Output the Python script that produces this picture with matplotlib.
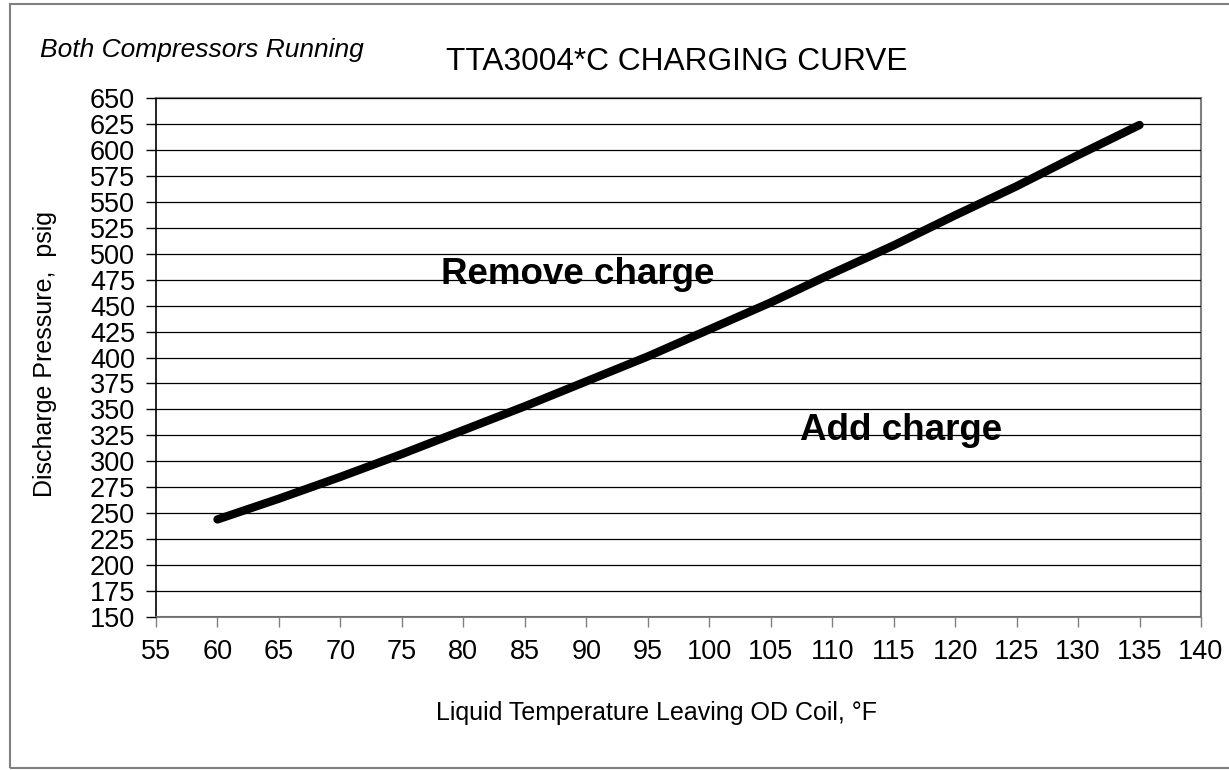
import numpy as np
import matplotlib.pyplot as plt
from matplotlib.patches import Rectangle

plt.rcParams['font.family'] = ['Liberation Sans', 'DejaVu Sans']

# charging curve
temp_f = [60, 65, 70, 75, 80, 85, 90, 95, 100, 105, 110, 115, 120, 125, 130, 135]
pressure_psig = [244, 264, 285, 307, 330, 353, 377, 401, 427, 453, 481, 508, 537, 565, 595, 624]

x_ticks = list(range(55, 141, 5))
y_ticks = list(range(150, 651, 25))

TITLE = "TTA3004*C CHARGING CURVE"
SUBTITLE = "Both Compressors Running"
X_LABEL = "Liquid Temperature Leaving OD Coil, °F"
Y_LABEL = "Discharge Pressure,  psig"


def main():
    fig = plt.figure(figsize=(12.29, 7.70), dpi=100)
    W, H = 1229, 770

    # outer frame of the chart
    fig.patches.append(Rectangle((10 / W, 1 - 768 / H), 1.2, (768 - 4) / H,
                                 transform=fig.transFigure, fill=False,
                                 edgecolor='#808080', linewidth=1.5))

    ax = fig.add_axes([156 / W, 1 - 617 / H, (1201 - 156) / W, (617 - 98) / H])

    ax.plot(temp_f, pressure_psig, color='black', linewidth=6,
            solid_capstyle='round', zorder=3)

    ax.set_xlim(55, 140)
    ax.set_ylim(150, 650)
    ax.set_xticks(x_ticks)
    ax.set_yticks(y_ticks)
    ax.tick_params(axis='both', direction='out', length=7, width=1,
                   labelsize=19.5, colors='black')
    ax.tick_params(axis='y', pad=8)
    ax.tick_params(axis='x', pad=9, color='#808080')

    ax.yaxis.grid(True, color='black', linewidth=0.9)
    ax.set_axisbelow(False)

    for side in ['top', 'right']:
        ax.spines[side].set_color('#808080')
        ax.spines[side].set_linewidth(1.5)
    ax.spines['left'].set_color('black')
    ax.spines['left'].set_linewidth(1.2)
    ax.spines['bottom'].set_color('#808080')
    ax.spines['bottom'].set_linewidth(1.5)

    ax.text(89.3, 480, "Remove charge", fontsize=26.5, fontweight='bold',
            ha='center', va='center', zorder=1)
    ax.text(115.6, 330, "Add charge", fontsize=26.5, fontweight='bold',
            ha='center', va='center', zorder=1)

    fig.text(677 / W, 1 - 62 / H, TITLE, fontsize=22.8, ha='center', va='center')
    fig.text(40 / W, 1 - 50 / H, SUBTITLE, fontsize=19, style='italic',
             ha='left', va='center')
    fig.text(657 / W, 1 - 713 / H, X_LABEL, fontsize=18, ha='center', va='center')
    fig.text(45 / W, 1 - 354 / H, Y_LABEL, fontsize=18, rotation=90,
             ha='center', va='center')

    fig.savefig('out.png', dpi=100, facecolor='white')


if __name__ == '__main__':
    main()
